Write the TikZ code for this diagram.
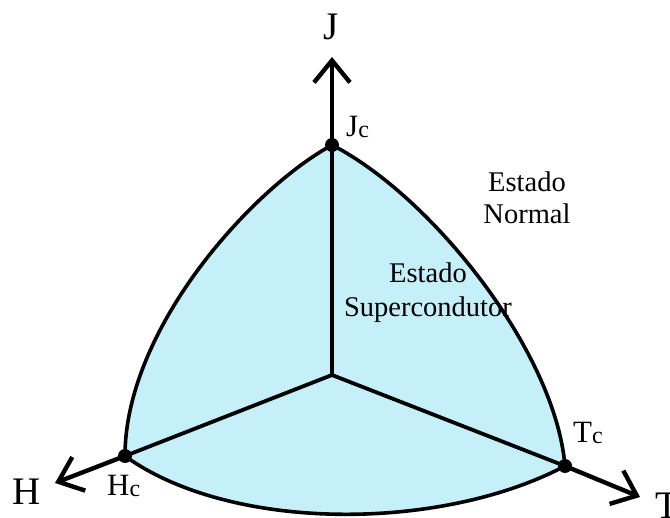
\documentclass[tikz,border=0pt]{standalone}
\usepackage{fontspec}
\setmainfont{Liberation Serif}
\usetikzlibrary{arrows.meta}
\definecolor{superfill}{RGB}{197,240,250}
\begin{document}
\begin{tikzpicture}[x=1pt,y=-1pt,
  axis/.style={line width=4.4pt,-{Straight Barb[length=22pt,width=36pt,line width=4.4pt]}},
  edge/.style={line width=3.8pt},
  curve/.style={line width=3.6pt},
  dot/.style={circle,fill=black,inner sep=0pt,minimum size=14pt},
  biglabel/.style={font=\fontsize{39}{40}\selectfont,inner sep=0pt},
  smalllabel/.style={font=\fontsize{31}{32}\selectfont,inner sep=0pt,anchor=base west},
  statetext/.style={font=\fontsize{28.5}{32}\selectfont,align=center,inner sep=0pt}]
\useasboundingbox (0,0) rectangle (670,518);
\coordinate (O) at (332,375);
\coordinate (Jc) at (332,145);
\coordinate (Hc) at (125,456);
\coordinate (Tc) at (565,466);
\coordinate (Jtip) at (332,57);
\coordinate (Htip) at (55,483);
\coordinate (Ttip) at (640,497);
% region
\fill[superfill] (Jc) .. controls (250,190) and (125,330) .. (Hc)
  .. controls (230,532) and (440,532) .. (Tc)
  .. controls (555,350) and (430,195) .. (Jc) -- cycle;
% inner edges
\draw[edge] (O) -- (Hc);
\draw[edge] (O) -- (Tc);
% curves
\draw[curve] (Jc) .. controls (250,190) and (125,330) .. (Hc);
\draw[curve] (Hc) .. controls (230,532) and (440,532) .. (Tc);
\draw[curve] (Tc) .. controls (555,350) and (430,195) .. (Jc);
% axes
\draw[axis] (O) -- (Jtip);
\draw[axis] (Hc) -- (Htip);
\draw[axis] (Tc) -- (Ttip);
\draw[edge] (O) -- (Jc);
% dots
\node[dot] (dJ) at (Jc) {};
\node[dot] (dH) at (Hc) {};
\node[dot] (dT) at (Tc) {};
% labels
\node[biglabel] (lJ) at (331,27) {J};
\node[biglabel] (lH) at (27,492) {H};
\node[biglabel,anchor=base west] (lT) at (655,519) {T};
\node[smalllabel] (lJc) at (346,137) {J\raisebox{-1pt}{\fontsize{24}{25}\selectfont c}};
\node[smalllabel] (lHc) at (107,496) {H\raisebox{-1pt}{\fontsize{24}{25}\selectfont c}};
\node[smalllabel] (lTc) at (573,443) {T\raisebox{-1pt}{\fontsize{24}{25}\selectfont c}};
\node[statetext,anchor=base] (sn) at (527,224) {Estado\\Normal};
\node[statetext,anchor=base] (ss) at (428,317) {Estado\\[2pt]Supercondutor};
\end{tikzpicture}
\end{document}
